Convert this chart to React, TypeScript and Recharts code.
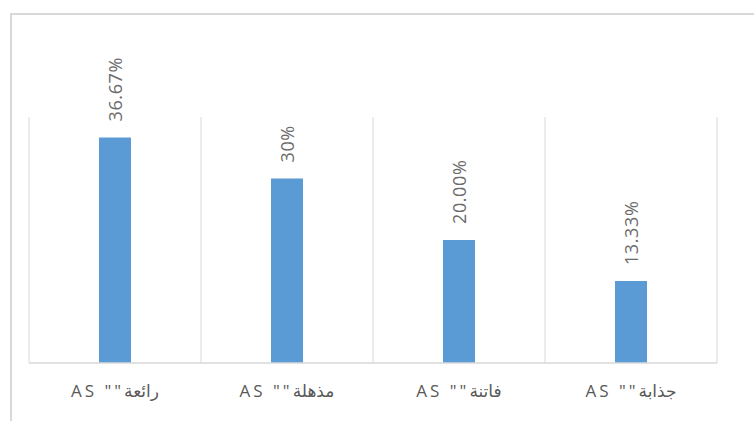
import React from "react";
import {
  BarChart,
  Bar,
  XAxis,
  YAxis,
  CartesianGrid,
  LabelList,
} from "recharts";

const categories = ['AS ""رائعة', 'AS ""مذهلة', 'AS ""فاتنة', 'AS ""جذابة'];
const shares = [36.67, 30, 20, 13.33];
const shareLabels = ["36.67%", "30%", "20.00%", "13.33%"];

const data = categories.map((name, i) => ({
  name,
  value: shares[i],
  label: shareLabels[i],
}));

const FONT = "'Open Sans', 'DejaVu Sans', sans-serif";

const RotatedLabel = (props: any) => {
  const { x, y, width, value } = props;
  const cx = x + width / 2;
  const cy = y - 16;
  return (
    <text
      x={cx}
      y={cy}
      fill="#6b6b6b"
      fontSize={18}
      letterSpacing={0.6}
      fontFamily={FONT}
      textAnchor="start"
      dominantBaseline="central"
      transform={`rotate(-90, ${cx}, ${cy})`}
    >
      {value}
    </text>
  );
};

const App: React.FC = () => {
  return (
    <div
      style={{
        position: "fixed",
        left: 0,
        top: 0,
        width: 754,
        height: 421,
        overflow: "hidden",
        background: "#fff",
      }}
    >
      <div
        style={{
          position: "absolute",
          left: 10,
          top: 13,
          width: 800,
          height: 500,
          borderLeft: "2px solid #d9d9d9",
          borderTop: "2px solid #d9d9d9",
        }}
      />
      <div style={{ position: "absolute", left: 0, top: 0 }}>
        <BarChart
          width={754}
          height={421}
          data={data}
          margin={{ top: 117, right: 37, left: 29, bottom: 0 }}
        >
          <CartesianGrid
            horizontal={false}
            stroke="#d9d9d9"
            verticalCoordinatesGenerator={({ offset }: any) =>
              categories
                .concat([""])
                .map((_, i) => offset.left + (i * offset.width) / categories.length)
            }
          />
          <XAxis
            dataKey="name"
            height={58}
            axisLine={{ stroke: "#d9d9d9", strokeWidth: 1.5 }}
            tickLine={false}
            tick={{
              fill: "#595959",
              fontSize: 17,
              fontFamily: FONT,
              letterSpacing: 3,
            }}
            tickMargin={16}
            interval={0}
          />
          <YAxis hide domain={[0, 40]} />
          <Bar
            dataKey="value"
            fill="#5b9bd5"
            barSize={32}
            isAnimationActive={false}
          >
            <LabelList dataKey="label" content={RotatedLabel} />
          </Bar>
        </BarChart>
      </div>
    </div>
  );
};

export default App;
